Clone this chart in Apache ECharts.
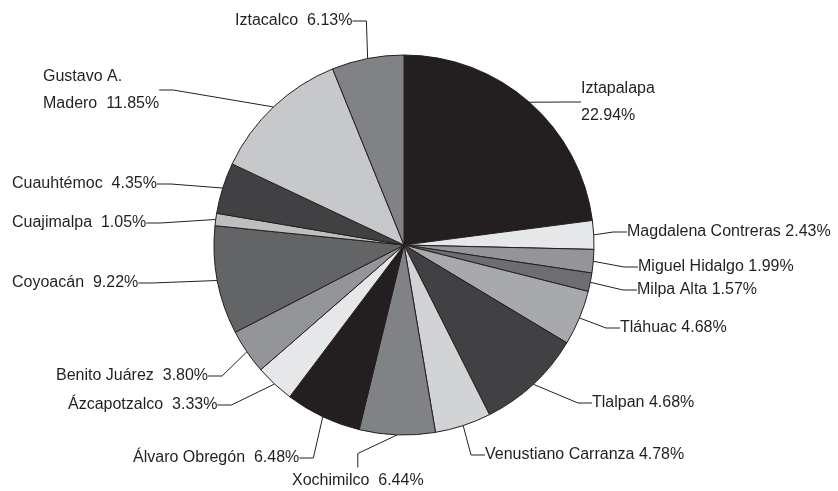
<!DOCTYPE html>
<html>
<head>
<meta charset="utf-8">
<script src="https://cdn.jsdelivr.net/npm/echarts@6/dist/echarts.min.js"></script>
<style>
  html, body { margin: 0; padding: 0; background: #fff; }
  #charts { width: 838px; height: 491px; }
</style>
</head>
<body>
<div id="charts"></div>
<script>
// slices, clockwise from 12 o'clock
var names = ['Iztapalapa', 'Magdalena Contreras', 'Miguel Hidalgo', 'Milpa Alta', 'Tláhuac',
	'Tlalpan', 'Venustiano Carranza', 'Xochimilco', 'Álvaro Obregón', 'Ázcapotzalco',
	'Benito Juárez', 'Coyoacán', 'Cuajimalpa', 'Cuauhtémoc', 'Gustavo A. Madero', 'Iztacalco'];
// slice sizes as drawn (Tlalpan's slice is bigger than its printed figure)
var values = [22.94, 2.43, 1.99, 1.57, 4.68, 8.96, 4.78, 6.44, 6.48, 3.33, 3.80, 9.22, 1.05, 4.35, 11.85, 6.13];
// texts printed next to the slices
var labelTexts = ['Iztapalapa\n22.94%', 'Magdalena Contreras 2.43%', 'Miguel Hidalgo 1.99%', 'Milpa Alta 1.57%',
	'Tláhuac 4.68%', 'Tlalpan 4.68%', 'Venustiano Carranza 4.78%', 'Xochimilco  6.44%', 'Álvaro Obregón  6.48%',
	'Ázcapotzalco  3.33%', 'Benito Juárez  3.80%', 'Coyoacán  9.22%', 'Cuajimalpa  1.05%', 'Cuauhtémoc  4.35%',
	'Gustavo A.\nMadero  11.85%', 'Iztacalco  6.13%'];
var colors = ['#231f20', '#e6e7e8', '#939598', '#6d6e71', '#a7a9ac', '#414042', '#d1d3d4', '#808285',
	'#231f20', '#e6e7e8', '#939598', '#636466', '#bcbec0', '#414042', '#c7c8ca', '#808285'];

// label placement: left edge, vertical middle
var labelPos = [[581, 102], [627, 232], [638, 267], [637, 290], [620, 328], [592, 403], [485, 455],
	[292, 481], [133, 458], [68, 405], [56, 376], [12, 283], [12, 223], [12, 184], [43, 90], [235, 21]];

var myChart = echarts.init(document.getElementById('charts'));

var pieData = [];
for (var i = 0; i < names.length; i++) {
	pieData.push({ name: names[i], value: values[i], itemStyle: { color: colors[i] } });
}

var option = {
	animation: false,
	series: [{
		type: 'pie',
		center: [404, 245],
		radius: 190,
		startAngle: 90,
		clockwise: true,
		avoidLabelOverlap: false,
		emphasis: { disabled: true },
		itemStyle: { borderColor: '#231f20', borderWidth: 1 },
		label: {
			show: true,
			position: 'outside',
			color: '#231f20',
			fontFamily: "'Liberation Sans', Arial, sans-serif",
			fontSize: 16,
			lineHeight: 27,
			formatter: function (p) { return labelTexts[p.dataIndex]; }
		},
		labelLine: {
			show: true,
			length: 10,
			length2: 14,
			lineStyle: { color: '#231f20', width: 1 }
		},
		labelLayout: function (p) {
			var pos = labelPos[p.dataIndex];
			return { x: pos[0], y: pos[1], align: 'left', verticalAlign: 'middle' };
		},
		data: pieData
	}]
};

myChart.setOption(option);
</script>
</body>
</html>
